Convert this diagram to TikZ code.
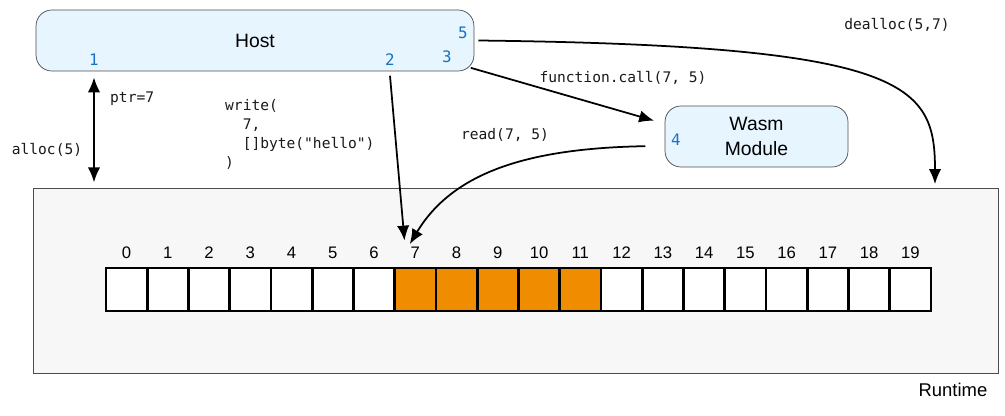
\documentclass[tikz,border=0pt]{standalone}
\usepackage{fontspec}
\setmainfont{Liberation Sans}
\setmonofont{DejaVu Sans Mono}
\usetikzlibrary{arrows.meta,positioning}
\definecolor{boxblue}{HTML}{E7F5FF}
\definecolor{numblue}{HTML}{1971C2}
\definecolor{memorange}{HTML}{F08C00}
\tikzstyle{box}=[draw=black!70, fill=boxblue, rounded corners=9pt, inner sep=0pt, align=center, font=\fontsize{11}{14.5}\selectfont]
\tikzstyle{cell}=[draw, line width=1.6pt, fill=white, minimum width=0.825cm, minimum height=0.86cm, inner sep=0pt, outer sep=0pt]
\tikzstyle{used cell}=[cell, fill=memorange]
\tikzstyle{idx}=[font=\fontsize{9.5}{10}\selectfont]
\tikzstyle{num}=[text=numblue, font=\ttfamily\fontsize{9}{10}\selectfont]
\tikzstyle{code}=[align=left, text=black!90, font=\ttfamily\fontsize{8.3}{10.8}\selectfont]
\tikzstyle{edge}=[draw, line width=1pt, -{Latex[length=8.5pt,width=7pt]}]

\begin{document}
\begin{tikzpicture}[x=0.02cm, y=-0.02cm]
    \useasboundingbox (0,0) rectangle (1005,416);
    % Runtime area and the two boxes
    \node[draw=black!70, fill=black!3, minimum width=19.3cm, minimum height=3.7cm] (runtime) at (515.5,280.5) {};
    \node (rtlabel) at (953,390) {\fontsize{10.5}{12}\selectfont Runtime};
    \node[box, minimum width=8.76cm, minimum height=1.22cm] (host) at (255,40.5) {Host};
    \node[box, minimum width=3.66cm, minimum height=1.22cm] (wasm) at (756.5,136.5) {Wasm\\Module};

    % Step numbers
    \foreach \pos/\name in {{(94,60)/1}, {(390,60)/2}, {(447,57)/3}, {(676,140)/4}, {(463,33)/5}}
        \node[num] (n\name) at \pos {\name};

    % Memory cells with their indices
    \foreach \i in {0,1,2,3,4,5,6,12,13,14,15,16,17,18,19}
        \node[cell] (c\i) at ({126.6+41.25*\i},289.5) {};
    \foreach \i in {7,...,11}
        \node[used cell] (c\i) at ({126.6+41.25*\i},289.5) {};
    \foreach \i in {0,...,19}
        \node[idx, above=2pt of c\i] (i\i) {\i};

    % Calls between host, module and memory
    \draw[edge, {Latex[length=8.5pt,width=7pt]}-{Latex[length=8.5pt,width=7pt]}] ([yshift=-3.4pt]host.south -| n1) -- ([yshift=3pt]runtime.north -| n1);
    \node[code, anchor=west] (ptr) at (104,99) {ptr=7};
    \node[code] (alloc) at (47,150) {alloc(5)};

    \path[edge] ([yshift=-2.5pt]host.south -| n2) -- (i7.north west);
    \node[code, anchor=north west] (write) at (219,93) {write(\\\ \ 7,\\\ \ []byte("hello")\\)};

    \path[edge] ([xshift=-2pt,yshift=2pt]host.south east) -- ([xshift=-6pt,yshift=9pt]wasm.west);
    \node[code] (call) at (623,78) {function.call(7, 5)};

    \path[edge] ([xshift=-11pt,yshift=-5.5pt]wasm.west) .. controls +(-110,2) and +(45,-75) .. ([xshift=3pt,yshift=-2pt]i7.north west);
    \node[code] (read) at (505,135) {read(7, 5)};

    \path[edge] ([xshift=2.3pt]host.east) .. controls +(430,5) and +(0,-100) .. ([xshift=-36pt,yshift=2pt]runtime.north east);
    \node[code] (dealloc) at (897,25) {dealloc(5,7)};
\end{tikzpicture}
\end{document}
